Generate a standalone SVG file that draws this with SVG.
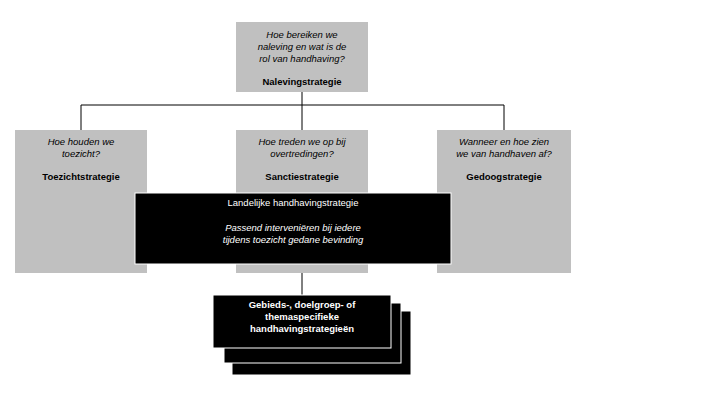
<svg xmlns="http://www.w3.org/2000/svg" width="713" height="400" viewBox="0 0 713 400">
<style>
text{font-family:"Liberation Sans",Arial,sans-serif;font-size:9.5px;text-anchor:middle}
.g{fill:#c0c0c0}
.k{fill:#000;stroke:#fff;stroke-width:1}
.i{font-style:italic}
.b{font-weight:bold}
.w{fill:#fff}
.ln{stroke:#000;stroke-width:1;fill:none}
</style>
<rect width="713" height="400" fill="#fff"/>
<g id="connectors">
<path class="ln" d="M302 92V130M81 105H504M81 105V130M504 105V130M302 263V295"/>
</g>
<g id="top"><rect class="g" x="236" y="22" width="132" height="70"/>
<text class="i" x="302" y="38">Hoe bereiken we</text><text class="i" x="302" y="50">naleving en wat is de</text><text class="i" x="302" y="62">rol van handhaving?</text><text class="b" x="302" y="85">Nalevingstrategie</text></g>
<g id="toezicht"><rect class="g" x="15" y="130" width="132" height="143"/>
<text class="i" x="81" y="145">Hoe houden we</text><text class="i" x="81" y="157">toezicht?</text><text class="b" x="81" y="180">Toezichtstrategie</text></g>
<g id="sanctie"><rect class="g" x="236" y="130" width="132" height="143"/>
<text class="i" x="302" y="145">Hoe treden we op bij</text><text class="i" x="302" y="157">overtredingen?</text><text class="b" x="302" y="180">Sanctiestrategie</text></g>
<g id="gedoog"><rect class="g" x="437" y="130" width="134" height="143"/>
<text class="i" x="504" y="145">Wanneer en hoe zien</text><text class="i" x="504" y="157">we van handhaven af?</text><text class="b" x="504" y="180">Gedoogstrategie</text></g>
<g id="landelijk"><rect class="k" x="135" y="193" width="316" height="71"/>
<text class="w" x="293" y="206">Landelijke handhavingstrategie</text><text class="w i" x="293" y="231">Passend interveniëren bij iedere</text><text class="w i" x="293" y="243">tijdens toezicht gedane bevinding</text></g>
<g id="specifiek">
<rect class="k" x="232" y="311" width="179" height="64"/>
<rect class="k" x="224" y="303" width="177" height="60"/>
<rect class="k" x="213" y="295" width="178" height="53"/>
<text class="w b" x="302" y="308">Gebieds-, doelgroep- of</text><text class="w b" x="302" y="320">themaspecifieke</text><text class="w b" x="302" y="332">handhavingstrategieën</text></g>
</svg>
